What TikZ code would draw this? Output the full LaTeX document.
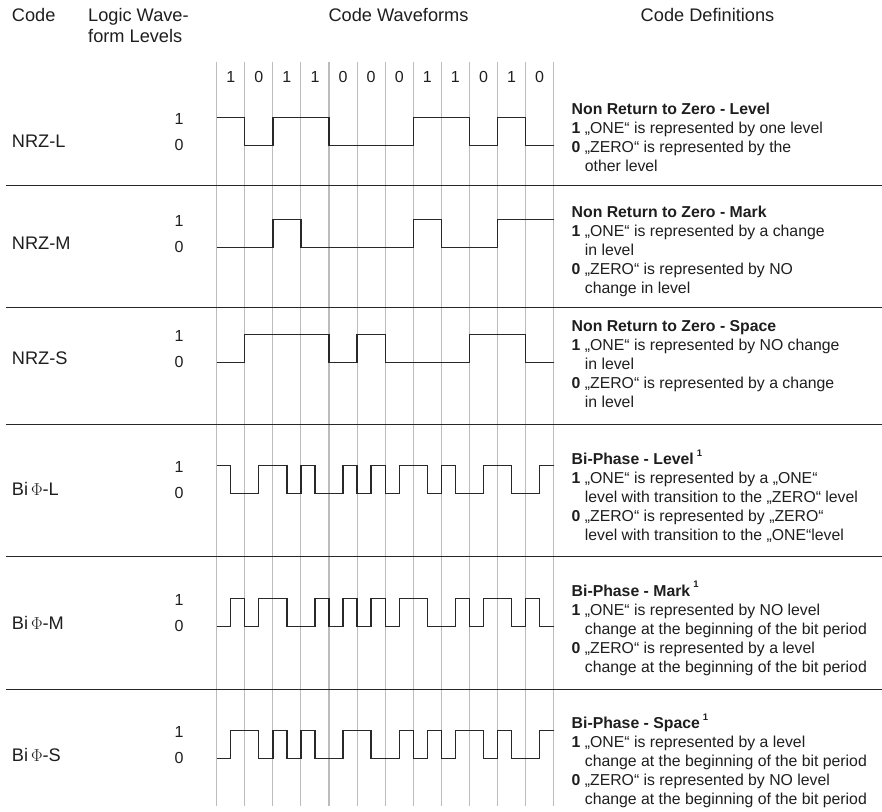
\documentclass[tikz,border=0pt]{standalone}
\usepackage{fontspec}
\setmainfont{Liberation Sans}
\definecolor{GridGrey}{RGB}{188,188,188}
\definecolor{WaveDark}{RGB}{40,40,40}
\definecolor{TextDark}{RGB}{30,30,30}
\newcommand{\cont}{\hphantom{\textbf{0}}\ }
\newcommand{\supone}{\hspace{3pt}\raisebox{8.8pt}[0pt][0pt]{\fontsize{9.5}{10}\selectfont\bfseries 1}}

\begin{document}
\begin{tikzpicture}[x=1pt,y=-1pt,
    every node/.style={inner sep=0pt,text=TextDark,font=\fontsize{18.2}{21}\selectfont},
    grid/.style={GridGrey,line width=1.1pt},
    rowsep/.style={black!85,line width=1pt},
    wave/.style={WaveDark,line width=1.3pt},
    digit/.style={font=\fontsize{16}{18}\selectfont},
    defn/.style={anchor=north west,align=left,font=\fontsize{15.8}{19}\selectfont}]
  \useasboundingbox (0,0) rectangle (882,811);
  % column heads
  \node[anchor=base west] (hcode) at (11.7,21.5) {Code};
  \node[anchor=north west,align=left] (hlevels) at (88,8.6) {Logic Wave-\\form Levels};
  \node[anchor=base] (hwaves) at (398.5,21.5) {Code Waveforms};
  \node[anchor=base] (hdefs) at (707.5,21.5) {Code Definitions};
  % bit grid
  \foreach \i in {0,...,12}
    \draw[grid] ({216.7+28.08*\i},62) -- ({216.7+28.08*\i},806);
  \foreach \b [count=\i from 0] in {1,0,1,1,0,0,0,1,1,0,1,0}
    \node[digit] (bit\i) at ({230.74+28.08*\i},77) {\b};
  \foreach \y in {185.7,307.3,424,556.7,689}
    \draw[rowsep] (6,\y) -- (882,\y);
  % codes: name / high level / first half / half-bit levels
  \foreach \name/\hi/\first/\halves [count=\r] in {
      NRZ-L/117.7/1/{1,1,0,0,1,1,1,1,0,0,0,0,0,0,1,1,1,1,0,0,1,1,0,0},
      NRZ-M/219.7/0/{0,0,0,0,1,1,0,0,0,0,0,0,0,0,1,1,0,0,0,0,1,1,1,1},
      NRZ-S/334.3/0/{0,0,1,1,1,1,1,1,0,0,1,1,0,0,0,0,0,0,1,1,1,1,0,0},
      {Bi\,$\Phi$-L}/465.3/1/{1,0,0,1,1,0,1,0,0,1,0,1,0,1,1,0,1,0,0,1,1,0,0,1},
      {Bi\,$\Phi$-M}/598.7/0/{0,1,0,1,1,0,0,1,0,1,0,1,0,1,1,0,0,1,0,1,1,0,1,0},
      {Bi\,$\Phi$-S}/730.7/0/{0,1,1,0,1,0,1,0,0,1,1,0,0,1,0,1,0,1,1,0,1,0,0,1}}{
    \node[anchor=west] (code\r) at (11.7,\hi+24) {\name};
    \node[digit] (one\r) at (179,\hi+1.5) {1};
    \node[digit] (zero\r) at (179,\hi+27.5) {0};
    \draw[wave] (216.7,{\hi+28*(1-\first)})
      \foreach \l [count=\i from 0] in \halves {
        -- ({216.7+14.04*\i},{\hi+28*(1-\l)}) -- ({216.7+14.04*(\i+1)},{\hi+28*(1-\l)})};
  }
  % definitions
  \node[defn] (defnrzl) at (571.5,103.2) {\textbf{Non Return to Zero - Level}\\
    \textbf{1} „ONE“ is represented by one level\\
    \textbf{0} „ZERO“ is represented by the\\
    \cont other level};
  \node[defn] (defnrzm) at (571.5,205.9) {\textbf{Non Return to Zero - Mark}\\
    \textbf{1} „ONE“ is represented by a change\\
    \cont in level\\
    \textbf{0} „ZERO“ is represented by NO\\
    \cont change in level};
  \node[defn] (defnrzs) at (571.5,320.6) {\textbf{Non Return to Zero - Space}\\
    \textbf{1} „ONE“ is represented by NO change\\
    \cont in level\\
    \textbf{0} „ZERO“ is represented by a change\\
    \cont in level};
  \node[defn] (defbil) at (571.5,453.2) {\textbf{Bi-Phase - Level}\supone\\
    \textbf{1} „ONE“ is represented by a „ONE“\\
    \cont level with transition to the „ZERO“ level\\
    \textbf{0} „ZERO“ is represented by „ZERO“\\
    \cont level with transition to the „ONE“level};
  \node[defn] (defbim) at (571.5,584.9) {\textbf{Bi-Phase - Mark}\supone\\
    \textbf{1} „ONE“ is represented by NO level\\
    \cont change at the beginning of the bit period\\
    \textbf{0} „ZERO“ is represented by a level\\
    \cont change at the beginning of the bit period};
  \node[defn] (defbis) at (571.5,717.2) {\textbf{Bi-Phase - Space}\supone\\
    \textbf{1} „ONE“ is represented by a level\\
    \cont change at the beginning of the bit period\\
    \textbf{0} „ZERO“ is represented by NO level\\
    \cont change at the beginning of the bit period};
\end{tikzpicture}
\end{document}
